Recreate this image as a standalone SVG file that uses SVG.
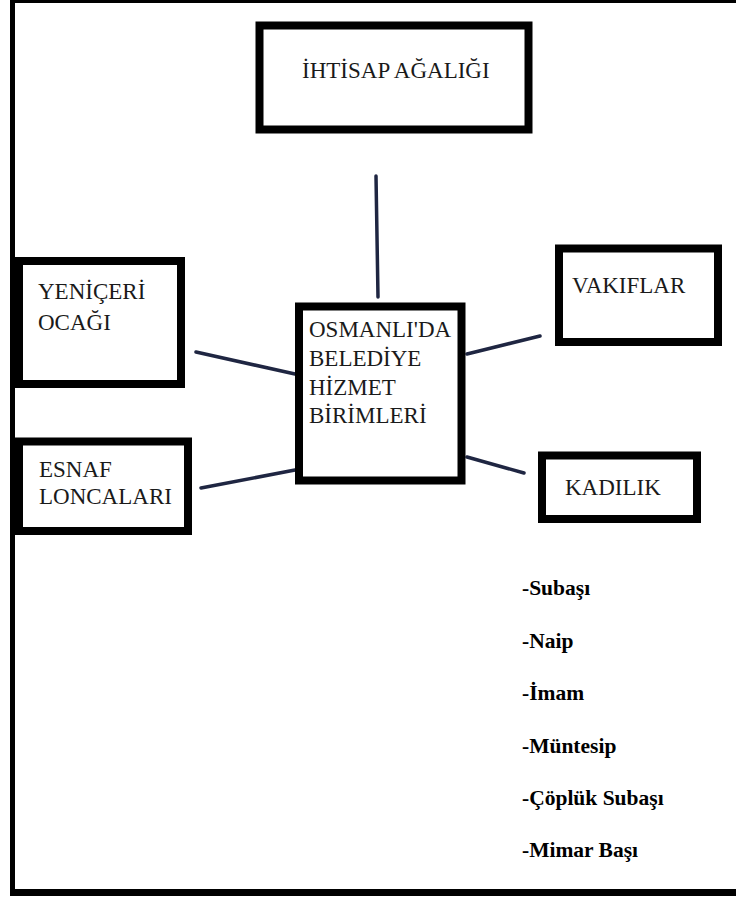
<svg xmlns="http://www.w3.org/2000/svg" width="736" height="897" viewBox="0 0 736 897">
<style>
.box{fill:#fff;stroke:#000;stroke-width:8}
.lbl{font-family:"Liberation Serif","Times New Roman",serif;font-size:23px;fill:#1a1a1a}
.item{font-family:"Liberation Serif","DejaVu Serif",serif;font-size:21.5px;font-weight:700;fill:#000}
.conn line{stroke:#1f2642;stroke-width:3.5;stroke-linecap:round}
</style>
<rect width="736" height="897" fill="#fff"/>
<g id="frame">
<rect x="10" y="0" width="5" height="896" fill="#000"/>
<rect x="10" y="0" width="726" height="3" fill="#000"/>
<rect x="10" y="889" width="726" height="7" fill="#000"/>
</g>
<g class="conn" id="connectors">
<line x1="376" y1="176" x2="378" y2="297"/>
<line x1="196" y1="352" x2="295" y2="374"/>
<line x1="467" y1="354" x2="540" y2="336"/>
<line x1="201" y1="488" x2="295" y2="470"/>
<line x1="467" y1="457" x2="524" y2="473"/>
</g>
<g id="ihtisap">
<rect class="box" x="259.5" y="25.5" width="269" height="104" stroke-width="7"/>
<text class="lbl" x="302" y="78" font-size="22">İHTİSAP AĞALIĞI</text>
</g>
<g id="yeniceri">
<rect class="box" x="19" y="261" width="162" height="123"/>
<text class="lbl" x="38" y="299">YENİÇERİ</text>
<text class="lbl" x="38" y="330">OCAĞI</text>
</g>
<g id="center">
<rect class="box" x="299" y="306.5" width="162.5" height="174"/>
<text class="lbl" x="309" y="337">OSMANLI'DA</text>
<text class="lbl" x="309" y="366">BELEDİYE</text>
<text class="lbl" x="309" y="395">HİZMET</text>
<text class="lbl" x="309" y="423">BİRİMLERİ</text>
</g>
<g id="vakiflar">
<rect class="box" x="559" y="248.5" width="159" height="93.5"/>
<text class="lbl" x="572" y="293">VAKIFLAR</text>
</g>
<g id="esnaf">
<rect class="box" x="19" y="441.5" width="169" height="89.5"/>
<text class="lbl" x="39" y="477">ESNAF</text>
<text class="lbl" x="39" y="504">LONCALARI</text>
</g>
<g id="kadilik">
<rect class="box" x="542" y="455.5" width="155" height="63.5"/>
<text class="lbl" x="565" y="495" font-size="22">KADILIK</text>
</g>
<g id="list">
<text class="item" x="522" y="595">-Subaşı</text>
<text class="item" x="522" y="648">-Naip</text>
<text class="item" x="522" y="700">-İmam</text>
<text class="item" x="522" y="753">-Müntesip</text>
<text class="item" x="522" y="805">-Çöplük Subaşı</text>
<text class="item" x="522" y="857">-Mimar Başı</text>
</g>
</svg>
